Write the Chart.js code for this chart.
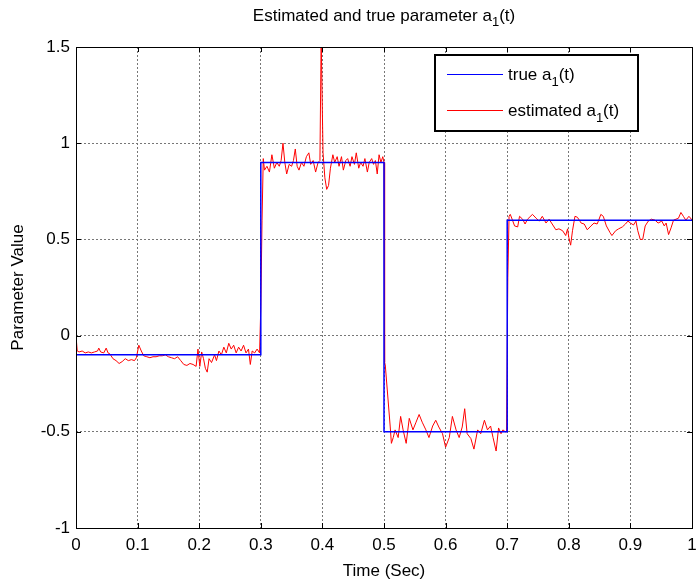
<!DOCTYPE html>
<html><head><meta charset="utf-8">
<script src="https://cdn.jsdelivr.net/npm/chart.js@4.4.1/dist/chart.umd.min.js"></script>
<style>html,body{margin:0;padding:0;background:#fff;}canvas{display:block}</style>
</head><body>
<canvas id="c" width="696" height="587"></canvas>
<script>
// ---- data ----
const chartTitle = "Estimated and true parameter a_1(t)";
const xAxisTitle = "Time (Sec)";
const yAxisTitle = "Parameter Value";
const legendLabels = ["true a_1(t)", "estimated a_1(t)"];
const xTickLabels = ["0","0.1","0.2","0.3","0.4","0.5","0.6","0.7","0.8","0.9","1"];
const yTickLabels = ["-1","-0.5","0","0.5","1","1.5"];

const trueT = [0, 0.3, 0.3, 0.5, 0.5, 0.7, 0.7, 1.0];
const trueA = [-0.1, -0.1, 0.9, 0.9, -0.5, -0.5, 0.6, 0.6];

const estT = [
0.000,0.002,0.005,0.010,0.015,0.020,0.025,0.030,0.035,0.037,0.040,0.045,0.049,0.052,0.055,0.060,0.065,0.070,0.075,0.080,
0.085,0.090,0.095,0.098,0.102,0.106,0.110,0.115,0.120,0.125,0.130,0.135,0.140,0.145,0.150,0.155,0.160,0.165,0.170,0.175,
0.180,0.185,0.190,0.195,0.198,0.201,0.204,0.207,0.210,0.213,0.216,0.220,0.225,0.228,0.232,0.236,0.240,0.244,0.248,0.252,
0.256,0.260,0.264,0.268,0.272,0.276,0.280,0.283,0.286,0.290,0.294,0.298,
0.300,0.302,0.304,0.306,0.310,0.314,0.318,0.322,0.326,0.330,0.333,0.336,0.339,0.342,0.346,0.350,0.353,0.356,0.359,0.362,
0.366,0.370,0.374,0.378,0.381,0.385,0.389,0.393,0.396,0.398,0.401,0.404,0.407,0.410,0.413,0.417,0.420,0.424,0.427,0.431,
0.434,0.438,0.441,0.445,0.448,0.452,0.455,0.459,0.462,0.466,0.469,0.473,0.476,0.480,0.483,0.486,0.489,0.492,0.495,0.498,
0.500,0.501,0.502,0.510,0.512,0.515,0.518,0.523,0.527,0.531,0.536,0.541,0.547,0.552,0.557,0.562,0.568,0.573,0.579,0.584,
0.589,0.595,0.600,0.606,0.611,0.617,0.622,0.627,0.631,0.635,0.641,0.646,0.652,0.657,0.663,0.668,0.673,0.677,0.682,0.686,
0.690,0.693,0.697,0.699,0.701,0.703,0.705,0.708,0.712,0.717,0.720,0.725,0.729,0.733,0.741,0.747,0.752,0.757,0.763,0.768,
0.773,0.779,0.784,0.790,0.795,0.798,0.800,0.803,0.806,0.810,0.814,0.820,0.825,0.830,0.836,0.841,0.846,0.848,0.852,0.856,
0.861,0.867,0.870,0.876,0.881,0.887,0.892,0.896,0.900,0.905,0.909,0.912,0.916,0.920,0.924,0.929,0.934,0.940,0.945,0.951,
0.955,0.958,0.962,0.966,0.970,0.974,0.978,0.982,0.986,0.990,0.995,0.999,1.000
];
const estA = [
0.00,-0.08,-0.085,-0.08,-0.09,-0.085,-0.09,-0.085,-0.08,-0.065,-0.085,-0.09,-0.065,-0.09,-0.095,-0.12,-0.13,-0.145,-0.135,-0.12,
-0.13,-0.125,-0.13,-0.115,-0.05,-0.08,-0.105,-0.11,-0.115,-0.11,-0.11,-0.105,-0.105,-0.10,-0.11,-0.115,-0.12,-0.11,-0.13,-0.15,
-0.155,-0.145,-0.15,-0.16,-0.07,-0.16,-0.085,-0.12,-0.17,-0.19,-0.12,-0.14,-0.10,-0.13,-0.08,-0.10,-0.06,-0.09,-0.04,-0.07,
-0.05,-0.09,-0.06,-0.08,-0.05,-0.09,-0.07,-0.15,-0.08,-0.09,-0.07,-0.09,
0.15,0.60,0.92,0.86,0.88,0.85,0.94,0.87,0.90,0.88,0.91,1.00,0.90,0.84,0.89,0.88,0.91,0.97,0.88,0.86,
0.90,0.88,0.93,0.95,0.89,0.91,0.85,0.90,0.91,1.55,0.95,0.82,0.76,0.78,0.87,0.94,0.90,0.93,0.88,0.93,
0.86,0.91,0.92,0.88,0.93,0.89,0.95,0.87,0.90,0.88,0.92,0.85,0.90,0.92,0.89,0.91,0.84,0.94,0.90,0.93,
0.90,-0.14,-0.15,-0.47,-0.56,-0.53,-0.49,-0.53,-0.42,-0.49,-0.56,-0.43,-0.49,-0.45,-0.41,-0.45,-0.49,-0.53,-0.47,-0.44,
-0.475,-0.51,-0.58,-0.53,-0.42,-0.49,-0.53,-0.475,-0.38,-0.51,-0.535,-0.59,-0.49,-0.51,-0.44,-0.49,-0.47,-0.53,-0.60,-0.48,
-0.51,-0.49,-0.50,-0.50,0.30,0.62,0.63,0.605,0.57,0.565,0.62,0.605,0.58,0.605,0.63,0.61,0.595,0.62,0.585,0.605,
0.58,0.55,0.555,0.545,0.52,0.555,0.51,0.47,0.545,0.62,0.615,0.585,0.58,0.55,0.57,0.585,0.58,0.595,0.63,0.62,
0.57,0.535,0.52,0.545,0.555,0.565,0.58,0.595,0.585,0.575,0.595,0.545,0.50,0.50,0.57,0.595,0.605,0.60,0.585,0.595,
0.57,0.585,0.525,0.56,0.60,0.605,0.61,0.64,0.62,0.60,0.62,0.605,0.60
];

// ---- helpers ----
const FONT = '"Liberation Sans", Arial, Helvetica, sans-serif';
const FS = 17;
function parts(str){
  const out=[]; let buf='';
  for(let i=0;i<str.length;i++){
    if(str[i]==='_' && i+1<str.length){ if(buf){out.push({t:buf,s:false});buf='';} out.push({t:str[i+1],s:true}); i++; }
    else buf+=str[i];
  }
  if(buf) out.push({t:buf,s:false});
  return out;
}
function drawRich(ctx,str,x,y,align,size,subSize,shift){
  const ps=parts(str);
  let w=0;
  ps.forEach(p=>{ctx.font=(p.s?subSize:size)+'px '+FONT; p.w=ctx.measureText(p.t).width; w+=p.w;});
  let cx = align==='center'? x-w/2 : x;
  ctx.textAlign='left'; ctx.textBaseline='alphabetic'; ctx.fillStyle='#000';
  ps.forEach(p=>{ctx.font=(p.s?subSize:size)+'px '+FONT; ctx.fillText(p.t,cx,y+(p.s?shift:0)); cx+=p.w;});
}

const decor = {
  id:'decor',
  afterDraw(chart){
    const ctx=chart.ctx, a=chart.chartArea;
    const xs=chart.scales.x, ys=chart.scales.y;
    ctx.save();
    ctx.strokeStyle='#000'; ctx.lineWidth=1;
    // inner ticks
    ctx.beginPath();
    for(let i=0;i<xTickLabels.length;i++){
      const px=Math.round(xs.getPixelForValue(i/10))+0.5;
      ctx.moveTo(px,a.bottom); ctx.lineTo(px,a.bottom-5);
      ctx.moveTo(px,a.top); ctx.lineTo(px,a.top+5);
    }
    for(let i=0;i<yTickLabels.length;i++){
      const py=Math.round(ys.getPixelForValue(-1+i*0.5))+0.5;
      ctx.moveTo(a.left,py); ctx.lineTo(a.left+5,py);
      ctx.moveTo(a.right,py); ctx.lineTo(a.right-5,py);
    }
    ctx.stroke();
    // box
    ctx.strokeRect(Math.round(a.left)+0.5,Math.round(a.top)+0.5,Math.round(a.right-a.left),Math.round(a.bottom-a.top));
    // title
    drawRich(ctx,chartTitle,(a.left+a.right)/2,21,'center',FS,13,5);
    // legend
    const lx=435, ly=55, lw=203, lh=76;
    ctx.fillStyle='#fff'; ctx.fillRect(lx,ly,lw,lh);
    ctx.lineWidth=2; ctx.strokeStyle='#000'; ctx.strokeRect(lx,ly,lw,lh);
    const colors=['#0000ff','#ff0000'];
    const rowY=[74,110];
    for(let i=0;i<2;i++){
      ctx.lineWidth=1; ctx.strokeStyle=colors[i];
      ctx.beginPath(); ctx.moveTo(447,rowY[i]+0.5); ctx.lineTo(503,rowY[i]+0.5); ctx.stroke();
      drawRich(ctx,legendLabels[i],508,rowY[i]+6,'left',FS,13,6);
    }
    ctx.restore();
  }
};

new Chart(document.getElementById('c'),{
  type:'line',
  data:{
    datasets:[
      {label:legendLabels[0], data:trueT.map((t,i)=>({x:t,y:trueA[i]})), borderColor:'#0000ff', borderWidth:1.5, pointRadius:0, tension:0, fill:false},
      {label:legendLabels[1], data:estT.map((t,i)=>({x:t,y:estA[i]})), borderColor:'#ff0000', borderWidth:1, pointRadius:0, tension:0, fill:false}
    ]
  },
  options:{
    responsive:false, animation:false, devicePixelRatio:1,
    layout:{padding:{top:47,right:4,left:0,bottom:0}},
    plugins:{legend:{display:false},title:{display:false},tooltip:{enabled:false}},
    scales:{
      x:{type:'linear',min:0,max:1,
        afterFit(s){s.height=59; s.paddingLeft=0; s.paddingRight=0;},
        ticks:{stepSize:0.1,autoSkip:false,maxRotation:0,padding:7,color:'#000',font:{family:FONT,size:FS},
          callback:(v,i)=>xTickLabels[i]},
        grid:{color:'#777',drawTicks:false,lineWidth:1},
        border:{display:false,dash:[2,2]},
        title:{display:true,text:xAxisTitle,color:'#000',font:{family:FONT,size:FS},padding:{top:0,bottom:5}}
      },
      y:{type:'linear',min:-1,max:1.5,
        afterFit(s){s.width=76; s.paddingTop=0; s.paddingBottom=0;},
        ticks:{stepSize:0.5,autoSkip:false,padding:6,color:'#000',font:{family:FONT,size:FS},
          callback:(v,i)=>yTickLabels[i]},
        grid:{color:'#777',drawTicks:false,lineWidth:1},
        border:{display:false,dash:[2,2]},
        title:{display:true,text:yAxisTitle,color:'#000',font:{family:FONT,size:FS},padding:{top:8,bottom:0}}
      }
    }
  },
  plugins:[decor]
});
</script>
</body></html>
